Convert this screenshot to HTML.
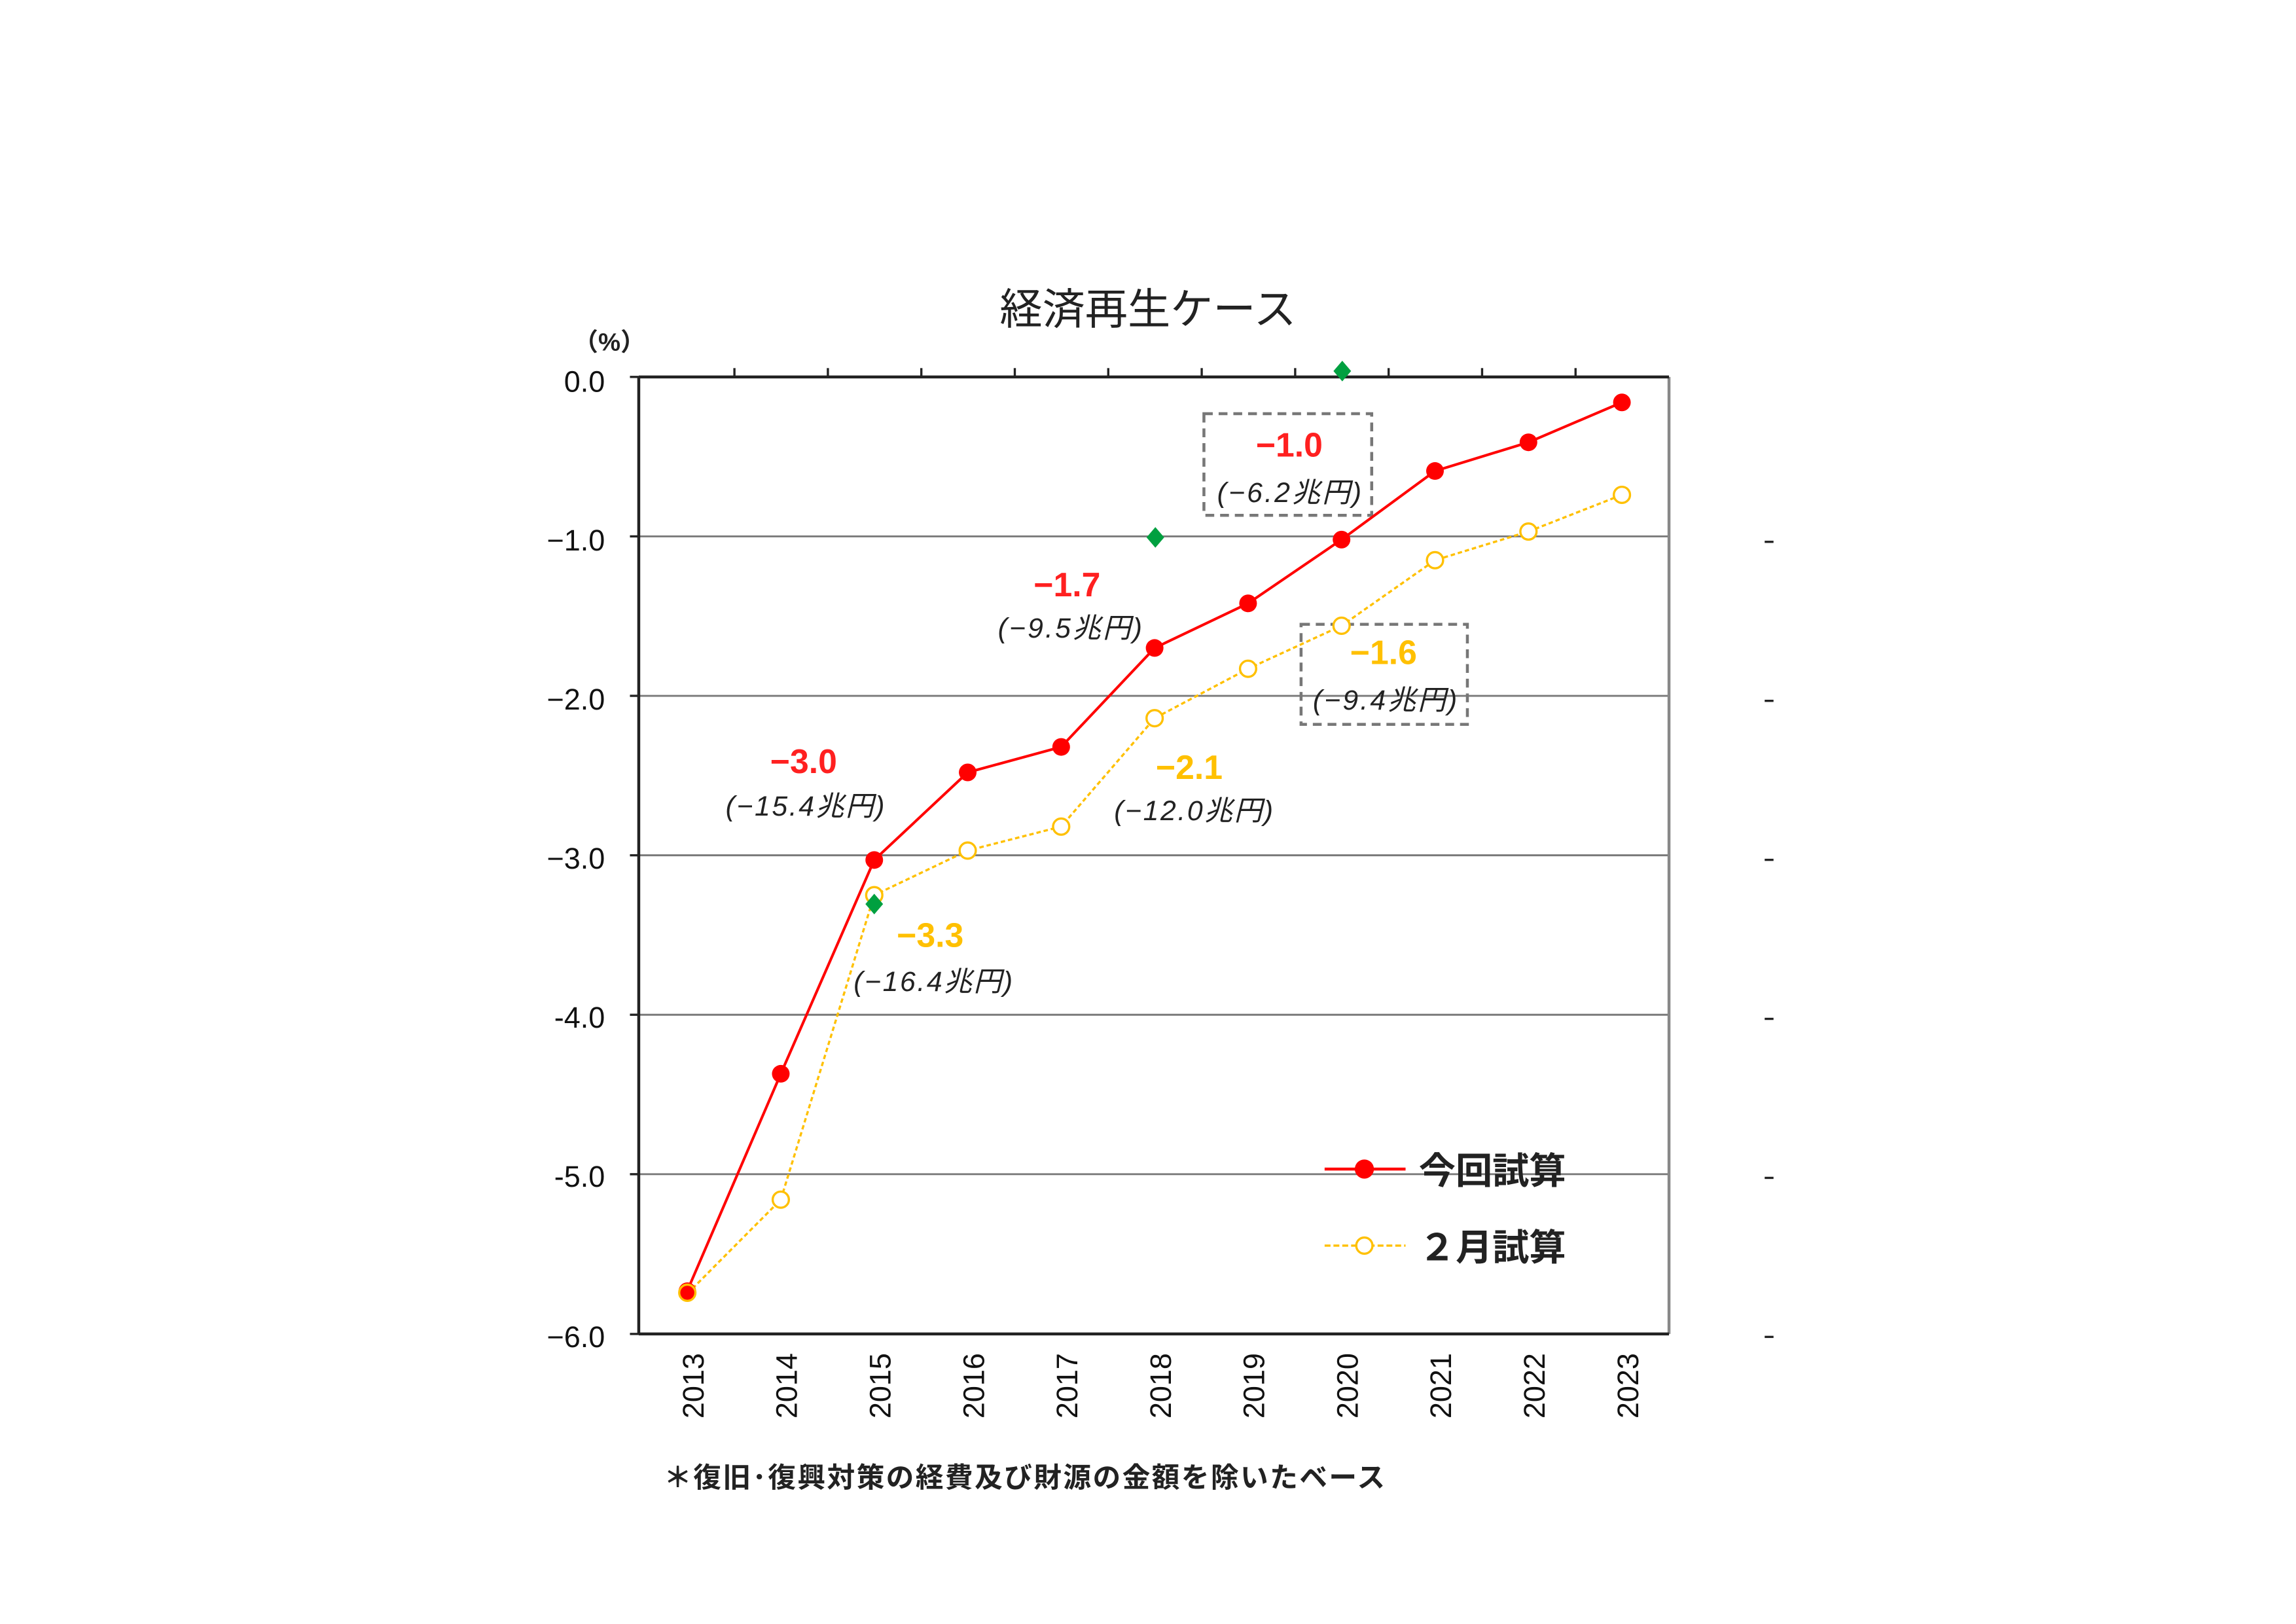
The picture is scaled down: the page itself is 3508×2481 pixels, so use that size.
<!DOCTYPE html>
<html><head><meta charset="utf-8"><style>
html,body{margin:0;padding:0;background:#fff;}
svg{display:block;}
text{font-family:"Liberation Sans","Noto Sans CJK JP",sans-serif;}
</style></head><body>
<svg width="3508" height="2481" viewBox="0 0 1560 1103" preserveAspectRatio="none" xmlns="http://www.w3.org/2000/svg">
<rect width="1560" height="1103" fill="#fff"/>
<g transform="translate(-3,-2)">
<text x="783" y="222" font-size="29" text-anchor="middle" fill="#222">経済再生ケース</text>
<text x="417" y="240" font-size="17" text-anchor="middle" fill="#222" font-weight="bold">（%）</text>
<g stroke="#7a7a7a" stroke-width="1.3">
<line x1="437" y1="366.3" x2="1137" y2="366.3"/>
<line x1="437" y1="474.6" x2="1137" y2="474.6"/>
<line x1="437" y1="582.9" x2="1137" y2="582.9"/>
<line x1="437" y1="691.2" x2="1137" y2="691.2"/>
<line x1="437" y1="799.5" x2="1137" y2="799.5"/>
</g>
<line x1="1137" y1="258" x2="1137" y2="908" stroke="#888" stroke-width="2"/>
<line x1="437" y1="258" x2="1137" y2="258" stroke="#222" stroke-width="2"/>
<line x1="437" y1="908" x2="1137" y2="908" stroke="#222" stroke-width="2"/>
<line x1="437" y1="258" x2="437" y2="908" stroke="#222" stroke-width="2"/>
<g stroke="#222" stroke-width="1.5">
<line x1="431" y1="258" x2="437" y2="258"/><line x1="431" y1="366.3" x2="437" y2="366.3"/><line x1="431" y1="474.6" x2="437" y2="474.6"/><line x1="431" y1="582.9" x2="437" y2="582.9"/><line x1="431" y1="691.2" x2="437" y2="691.2"/><line x1="431" y1="799.5" x2="437" y2="799.5"/><line x1="431" y1="908" x2="437" y2="908"/>
<line x1="502" y1="252" x2="502" y2="258"/><line x1="565.5" y1="252" x2="565.5" y2="258"/><line x1="629" y1="252" x2="629" y2="258"/><line x1="692.5" y1="252" x2="692.5" y2="258"/><line x1="756" y1="252" x2="756" y2="258"/><line x1="819.5" y1="252" x2="819.5" y2="258"/><line x1="883" y1="252" x2="883" y2="258"/><line x1="946.5" y1="252" x2="946.5" y2="258"/><line x1="1010" y1="252" x2="1010" y2="258"/><line x1="1073.5" y1="252" x2="1073.5" y2="258"/>
<line x1="1202" y1="370" x2="1208" y2="370"/><line x1="1202" y1="478" x2="1208" y2="478"/><line x1="1202" y1="586" x2="1208" y2="586"/><line x1="1202" y1="694" x2="1208" y2="694"/><line x1="1202" y1="802" x2="1208" y2="802"/><line x1="1202" y1="910" x2="1208" y2="910"/>
</g>
<g font-size="20" text-anchor="end" fill="#111">
<text x="414" y="268">0.0</text><text x="414" y="376">−1.0</text><text x="414" y="484">−2.0</text><text x="414" y="592">−3.0</text><text x="414" y="700">-4.0</text><text x="414" y="808">-5.0</text><text x="414" y="917">−6.0</text>
</g>
<g font-size="20" fill="#111" text-anchor="end">
<text transform="translate(481,921) rotate(-90)">2013</text>
<text transform="translate(544.5,921) rotate(-90)">2014</text>
<text transform="translate(608,921) rotate(-90)">2015</text>
<text transform="translate(671.5,921) rotate(-90)">2016</text>
<text transform="translate(735,921) rotate(-90)">2017</text>
<text transform="translate(798.5,921) rotate(-90)">2018</text>
<text transform="translate(862,921) rotate(-90)">2019</text>
<text transform="translate(925.5,921) rotate(-90)">2020</text>
<text transform="translate(989,921) rotate(-90)">2021</text>
<text transform="translate(1052.5,921) rotate(-90)">2022</text>
<text transform="translate(1116,921) rotate(-90)">2023</text>
</g>
<rect x="821" y="283" width="114" height="69" fill="none" stroke="#777" stroke-width="2" stroke-dasharray="6,4"/>
<rect x="887" y="426" width="113" height="68" fill="none" stroke="#777" stroke-width="2" stroke-dasharray="6,4"/>
<polyline fill="none" stroke="#ffc000" stroke-width="1.5" stroke-dasharray="3,2" points="470,880.7 533.5,816.8 597,610 660.5,579.7 724,563.4 787.5,489.8 851,456.2 914.5,427 978,382.5 1041.5,363 1105,338.1"/>
<g fill="#fff" stroke="#ffc000" stroke-width="1.5">
<circle cx="533.5" cy="816.8" r="5.5"/><circle cx="597" cy="610" r="5.5"/><circle cx="660.5" cy="579.7" r="5.5"/><circle cx="724" cy="563.4" r="5.5"/><circle cx="787.5" cy="489.8" r="5.5"/><circle cx="851" cy="456.2" r="5.5"/><circle cx="914.5" cy="427" r="5.5"/><circle cx="978" cy="382.5" r="5.5"/><circle cx="1041.5" cy="363" r="5.5"/><circle cx="1105" cy="338.1" r="5.5"/>
</g>
<polyline fill="none" stroke="#ff0000" stroke-width="1.8" points="470,878.6 533.5,731.3 597,586.1 660.5,526.6 724,509.3 787.5,442.1 851,411.8 914.5,368.5 978,321.9 1041.5,302.4 1105,275.3"/>
<g fill="#ff0000">
<circle cx="470" cy="879" r="6"/><circle cx="533.5" cy="731.3" r="6"/><circle cx="597" cy="586.1" r="6"/><circle cx="660.5" cy="526.6" r="6"/><circle cx="724" cy="509.3" r="6"/><circle cx="787.5" cy="442.1" r="6"/><circle cx="851" cy="411.8" r="6"/><circle cx="914.5" cy="368.5" r="6"/><circle cx="978" cy="321.9" r="6"/><circle cx="1041.5" cy="302.4" r="6"/><circle cx="1105" cy="275.3" r="6"/>
</g>
<circle cx="470" cy="880" r="5.5" fill="none" stroke="#ffc000" stroke-width="1.5"/>
<g fill="#00a040">
<polygon points="597,609 603,616 597,623 591,616"/>
<polygon points="788,360 794,367 788,374 782,367"/>
<polygon points="915,247 921,254 915,261 909,254"/>
</g>
<g font-weight="bold" font-size="23" text-anchor="middle">
<text x="549" y="527" fill="#ff2020">−3.0</text>
<text x="728" y="407" fill="#ff2020">−1.7</text>
<text x="879" y="312" fill="#ff2020">−1.0</text>
<text x="635" y="645" fill="#ffc000">−3.3</text>
<text x="811" y="531" fill="#ffc000">−2.1</text>
<text x="943" y="453" fill="#ffc000">−1.6</text>
</g>
<g font-style="italic" font-size="19" text-anchor="middle" fill="#222">
<text x="550" y="556" textLength="108">(−15.4兆円)</text>
<text x="730" y="435" textLength="98">(−9.5兆円)</text>
<text x="879" y="343" textLength="98">(−6.2兆円)</text>
<text x="637" y="675" textLength="108">(−16.4兆円)</text>
<text x="814" y="559" textLength="108">(−12.0兆円)</text>
<text x="944" y="484" textLength="98">(−9.4兆円)</text>
</g>
<line x1="903" y1="796" x2="958" y2="796" stroke="#ff0000" stroke-width="2"/>
<circle cx="930" cy="796" r="6.5" fill="#ff0000"/>
<text x="967" y="806" font-size="25" fill="#222" font-weight="bold">今回試算</text>
<line x1="903" y1="848" x2="958" y2="848" stroke="#ffc000" stroke-width="1.5" stroke-dasharray="4,2"/>
<circle cx="930" cy="848" r="5.5" fill="#fff" stroke="#ffc000" stroke-width="1.5"/>
<text x="967" y="858" font-size="25" fill="#222" font-weight="bold">２月試算</text>
<text x="454" y="1012" font-size="19" fill="#222" font-weight="bold" textLength="490">＊復旧･復興対策の経費及び財源の金額を除いたベース</text>
</g>
</svg>
</body></html>
